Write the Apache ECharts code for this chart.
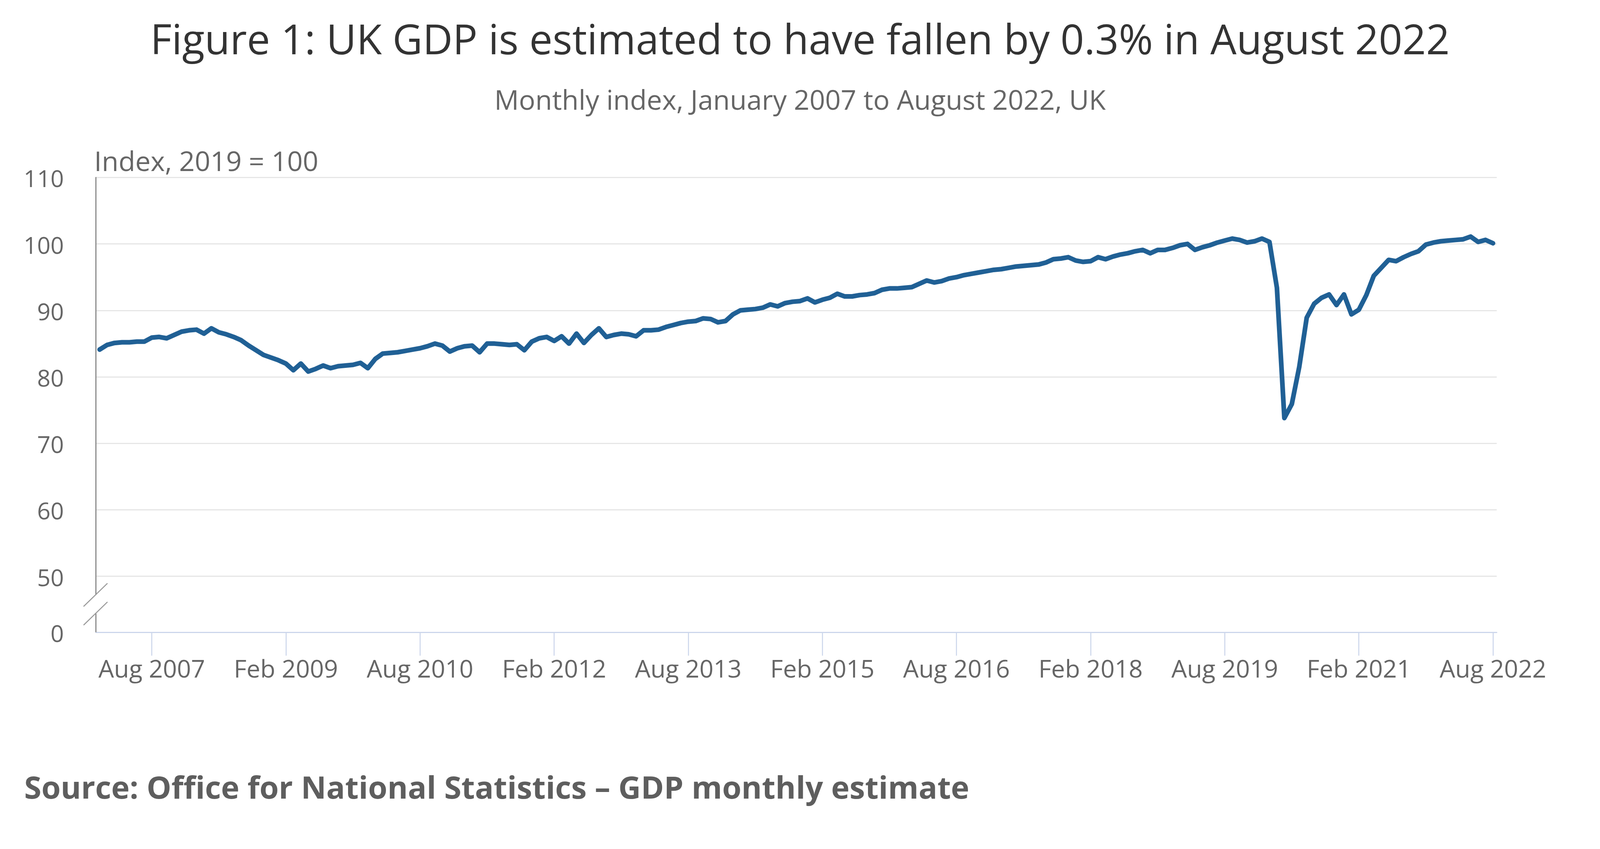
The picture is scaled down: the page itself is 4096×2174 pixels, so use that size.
<!DOCTYPE html>
<html>
<head>
<meta charset="utf-8">
<script src="https://cdn.jsdelivr.net/npm/echarts@6/dist/echarts.min.js"></script>
<style>
html,body{margin:0;padding:0;background:#ffffff;}
#chart{width:4096px;height:2174px;}
</style>
</head>
<body>
<div id="chart"></div>
<script>
// ---------------- data ----------------
const MONTHS = ['Jan','Feb','Mar','Apr','May','Jun','Jul','Aug','Sep','Oct','Nov','Dec'];
const FIRST_YEAR = 2007;
const MONTH_COUNT = 188; // January 2007 to August 2022
const categories = [];
for (let i = 0; i < MONTH_COUNT; i++) {
  categories.push(MONTHS[i % 12] + ' ' + (FIRST_YEAR + Math.floor(i / 12)));
}

// Monthly GDP index, 2019 = 100
const gdpIndex = [
  84.1, 84.8, 85.1, 85.2, 85.2, 85.3, 85.3, 85.9, 86.0, 85.8, 86.3, 86.8,   // 2007
  87.0, 87.1, 86.5, 87.3, 86.7, 86.4, 86.0, 85.5, 84.7, 84.0, 83.3, 82.9,   // 2008
  82.5, 82.0, 81.0, 82.0, 80.8, 81.2, 81.7, 81.3, 81.6, 81.7, 81.8, 82.1,   // 2009
  81.3, 82.7, 83.5, 83.6, 83.7, 83.9, 84.1, 84.3, 84.6, 85.0, 84.7, 83.8,   // 2010
  84.3, 84.6, 84.7, 83.7, 85.0, 85.0, 84.9, 84.8, 84.9, 84.0, 85.3, 85.8,   // 2011
  86.0, 85.4, 86.1, 85.0, 86.5, 85.1, 86.3, 87.3, 86.0, 86.3, 86.5, 86.4,   // 2012
  86.1, 87.0, 87.0, 87.1, 87.5, 87.8, 88.1, 88.3, 88.4, 88.8, 88.7, 88.2,   // 2013
  88.4, 89.4, 90.0, 90.1, 90.2, 90.4, 90.9, 90.6, 91.1, 91.3, 91.4, 91.8,   // 2014
  91.2, 91.6, 91.9, 92.5, 92.1, 92.1, 92.3, 92.4, 92.6, 93.1, 93.3, 93.3,   // 2015
  93.4, 93.5, 94.0, 94.5, 94.2, 94.4, 94.8, 95.0, 95.3, 95.5, 95.7, 95.9,   // 2016
  96.1, 96.2, 96.4, 96.6, 96.7, 96.8, 96.9, 97.2, 97.7, 97.8, 98.0, 97.5,   // 2017
  97.3, 97.4, 98.0, 97.7, 98.1, 98.4, 98.6, 98.9, 99.1, 98.6, 99.1, 99.1,   // 2018
  99.4, 99.8, 100.0, 99.1, 99.5, 99.8, 100.2, 100.5, 100.8, 100.6, 100.2, 100.4, // 2019
  100.8, 100.3, 93.4, 73.8, 75.9, 81.5, 88.9, 91.0, 91.9, 92.4, 90.8, 92.4, // 2020
  89.4, 90.1, 92.3, 95.2, 96.4, 97.6, 97.4, 98.0, 98.5, 98.9, 99.9, 100.2,  // 2021
  100.4, 100.5, 100.6, 100.7, 101.1, 100.3, 100.6, 100.1                    // 2022
];

const xTickLabels = ['Aug 2007','Feb 2009','Aug 2010','Feb 2012','Aug 2013','Feb 2015',
                     'Aug 2016','Feb 2018','Aug 2019','Feb 2021','Aug 2022'];
const yUpperMin = 50, yUpperMax = 110, yStep = 10;
const yBrokenLabel = 0;

const titleText = 'Figure 1: UK GDP is estimated to have fallen by 0.3% in August 2022';
const subtitleText = 'Monthly index, January 2007 to August 2022, UK';
const unitText = 'Index, 2019 = 100';
const sourceText = 'Source: Office for National Statistics \u2013 GDP monthly estimate';

// ---------------- layout / style ----------------
const FONT = '"Open Sans", "Noto Sans", sans-serif';
const GRID_LEFT = 245.5, GRID_RIGHT = 264.4;
const TOP_Y = 454.4, SPLIT_Y = 1475.5, AXIS_Y = 1618.9;
const LABEL_GREY = '#666666';
const GRID_GREY = '#e6e6e6';
const AXIS_BLUE = '#ccd6eb';
const YAXIS_GREY = '#8c8c8c';
const LINE_BLUE = '#206095';

const showTick = (idx, val) => xTickLabels.indexOf(val) !== -1;

const bh = AXIS_Y - SPLIT_Y;
const c1 = SPLIT_Y + bh / 3, c2 = SPLIT_Y + 2 * bh / 3;
const sx = GRID_LEFT - 1, sdx = 30.6, sdy = 29.7;

const yLabelStyle = {margin: 82, color: LABEL_GREY, fontFamily: FONT, fontSize: 60,
                     lineHeight: 16, verticalAlign: 'top'};

const chart = echarts.init(document.getElementById('chart'), null, {renderer: 'canvas'});
chart.setOption({
  animation: false,
  backgroundColor: '#ffffff',
  textStyle: {fontFamily: FONT},
  title: [
    {text: titleText, left: 'center', top: 56, padding: 0,
     textStyle: {fontFamily: FONT, fontSize: 106, lineHeight: 106, fontWeight: 'normal', color: '#333333'}},
    {text: subtitleText, left: 'center', top: 226.5, padding: 0,
     textStyle: {fontFamily: FONT, fontSize: 70, lineHeight: 70, fontWeight: 'normal', color: LABEL_GREY}},
    {text: unitText, left: 241, top: 383, padding: 0,
     textStyle: {fontFamily: FONT, fontSize: 70, lineHeight: 70, fontWeight: 'normal', color: LABEL_GREY}},
    {text: sourceText, left: 62, top: 1982, padding: 0,
     textStyle: {fontFamily: FONT, fontSize: 79.7, lineHeight: 80, fontWeight: 'bold', color: '#5e5e5e'}}
  ],
  grid: [
    {left: GRID_LEFT, right: GRID_RIGHT, top: TOP_Y, height: SPLIT_Y - TOP_Y, containLabel: false, outerBoundsMode: 'none'},
    {left: GRID_LEFT, right: GRID_RIGHT, top: SPLIT_Y, height: AXIS_Y - SPLIT_Y, containLabel: false, outerBoundsMode: 'none'}
  ],
  xAxis: [
    {type: 'category', gridIndex: 0, data: categories, boundaryGap: true, show: false},
    {type: 'category', gridIndex: 1, data: categories, boundaryGap: true,
     axisLine: {show: true, onZero: false, lineStyle: {color: AXIS_BLUE, width: 3}},
     axisTick: {show: true, alignWithLabel: true, interval: showTick, length: 60,
                lineStyle: {color: AXIS_BLUE, width: 2.6}},
     axisLabel: {show: true, interval: showTick, margin: 67, color: LABEL_GREY,
                 fontFamily: FONT, fontSize: 63, lineHeight: 63, hideOverlap: false},
     splitLine: {show: false}}
  ],
  yAxis: [
    {type: 'value', gridIndex: 0, min: yUpperMin, max: yUpperMax, interval: yStep,
     axisLine: {show: true, lineStyle: {color: YAXIS_GREY, width: 3}},
     axisTick: {show: false},
     axisLabel: yLabelStyle,
     splitLine: {show: true, lineStyle: {color: GRID_GREY, width: 3}}},
    {type: 'value', gridIndex: 1, min: yBrokenLabel, max: yBrokenLabel + yStep, interval: yStep,
     axisLine: {show: false},
     axisTick: {show: false},
     axisLabel: Object.assign({}, yLabelStyle, {
       formatter: v => (v === yBrokenLabel ? String(yBrokenLabel) : '')}),
     splitLine: {show: false}}
  ],
  series: [
    {type: 'line', name: 'GDP', xAxisIndex: 0, yAxisIndex: 0, data: gdpIndex,
     showSymbol: false, symbol: 'none', smooth: false,
     lineStyle: {color: LINE_BLUE, width: 12, join: 'round', cap: 'round'},
     itemStyle: {color: LINE_BLUE}, z: 5}
  ],
  graphic: [
    {type: 'line', z: 10, shape: {x1: GRID_LEFT, y1: SPLIT_Y, x2: GRID_LEFT, y2: c1},
     style: {stroke: YAXIS_GREY, lineWidth: 3}},
    {type: 'line', z: 10, shape: {x1: GRID_LEFT, y1: c2, x2: GRID_LEFT, y2: AXIS_Y},
     style: {stroke: YAXIS_GREY, lineWidth: 3}},
    {type: 'line', z: 10, shape: {x1: sx - sdx, y1: c1 + sdy, x2: sx + sdx, y2: c1 - sdy},
     style: {stroke: '#9a9a9a', lineWidth: 2.6}},
    {type: 'line', z: 10, shape: {x1: sx - sdx, y1: c2 + sdy, x2: sx + sdx, y2: c2 - sdy},
     style: {stroke: '#9a9a9a', lineWidth: 2.6}}
  ]
});
</script>
</body>
</html>
